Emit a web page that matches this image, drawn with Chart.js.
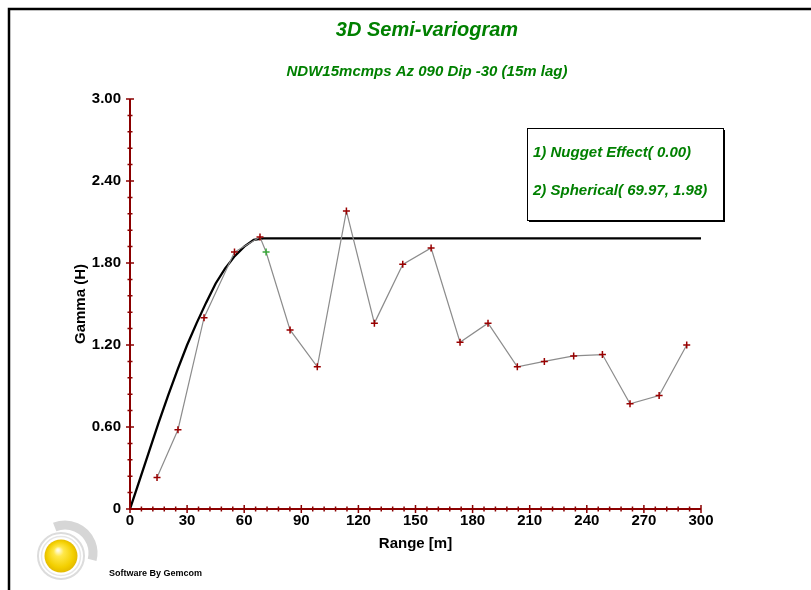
<!DOCTYPE html>
<html>
<head>
<meta charset="utf-8">
<script src="https://cdn.jsdelivr.net/npm/chart.js@4.4.1/dist/chart.umd.min.js"></script>
<style>
  html, body { margin: 0; padding: 0; background: #fff; }
  #wrap { width: 811px; height: 590px; }
</style>
</head>
<body>
<div id="wrap"><canvas id="c" width="811" height="590"></canvas></div>
<script>
// ---- data ----
const lagDistance = [14.2, 25.2, 38.9, 54.9, 68.3, 71.5, 84.1, 98.4, 113.7, 128.4, 143.3, 158.2, 173.4, 188.1, 203.5, 217.7, 233.1, 248.2, 262.7, 278.0, 292.5];
const gammaValues = [0.23, 0.58, 1.40, 1.88, 1.99, 1.88, 1.31, 1.04, 2.18, 1.36, 1.79, 1.91, 1.22, 1.36, 1.04, 1.08, 1.12, 1.13, 0.77, 0.83, 1.20];
const pointColours = ['#990000','#990000','#990000','#990000','#990000','#3aa63a','#990000','#990000','#990000','#990000','#990000','#990000','#990000','#990000','#990000','#990000','#990000','#990000','#990000','#990000','#990000'];
const modelRange = [0, 5, 10, 15, 20, 25, 30, 35, 40, 45, 50, 55, 60, 65, 70, 300];
const modelGamma = [0, 0.21, 0.42, 0.63, 0.83, 1.02, 1.20, 1.36, 1.51, 1.65, 1.76, 1.85, 1.92, 1.97, 1.98, 1.98];
const xTickValues = [0, 30, 60, 90, 120, 150, 180, 210, 240, 270, 300];
const xTickLabels = ['0', '30', '60', '90', '120', '150', '180', '210', '240', '270', '300'];
const yTickValues = [0, 0.6, 1.2, 1.8, 2.4, 3.0];
const yTickLabels = ['0', '0.60', '1.20', '1.80', '2.40', '3.00'];
const legendLines = ['1) Nugget Effect( 0.00)', '2) Spherical( 69.97, 1.98)'];
const chartTitle = '3D Semi-variogram';
const chartSubtitle = 'NDW15mcmps Az 090 Dip -30 (15m lag)';
const xTitle = 'Range [m]';
const yTitle = 'Gamma (H)';
const footerText = 'Software By Gemcom';

// ---- styles ----
const FONT = "'Liberation Sans', Arial, Helvetica, sans-serif";
const GREEN = '#008000';
const AXIS_RED = '#8b0000';

function labelFor(values, labels, v) {
  for (let i = 0; i < values.length; i++) {
    if (Math.abs(values[i] - v) < 1e-6) return labels[i];
  }
  return '';
}

const decorPlugin = {
  id: 'decor',
  beforeDraw(chart) {
    const ctx = chart.ctx;
    ctx.save();
    ctx.fillStyle = '#fff';
    ctx.fillRect(0, 0, chart.width, chart.height);
    ctx.restore();
  },
  afterDraw(chart) {
    const ctx = chart.ctx;
    const xs = chart.scales.x, ys = chart.scales.y;
    ctx.save();
    // outer frame
    ctx.strokeStyle = '#000';
    ctx.lineWidth = 2.5;
    ctx.beginPath();
    ctx.moveTo(9, 590);
    ctx.lineTo(9, 9);
    ctx.lineTo(811, 9);
    ctx.stroke();

    // axes lines
    const x0 = xs.getPixelForValue(0), y0 = ys.getPixelForValue(0);
    const x1 = xs.getPixelForValue(300), y1 = ys.getPixelForValue(3);
    ctx.strokeStyle = AXIS_RED;
    ctx.lineWidth = 2;
    ctx.beginPath();
    ctx.moveTo(x0, y1); ctx.lineTo(x0, y0); ctx.lineTo(x1, y0);
    ctx.stroke();
    // tick crosses
    ctx.lineWidth = 1.5;
    ctx.beginPath();
    ys.ticks.forEach(t => {
      const p = ys.getPixelForValue(t.value);
      const major = labelFor(yTickValues, yTickLabels, t.value) !== '';
      const h = major ? 4 : 2.5;
      ctx.moveTo(x0 - h, p); ctx.lineTo(x0 + h, p);
    });
    xs.ticks.forEach(t => {
      const p = xs.getPixelForValue(t.value);
      const major = labelFor(xTickValues, xTickLabels, t.value) !== '';
      const h = major ? 4 : 2.5;
      ctx.moveTo(p, y0 - h); ctx.lineTo(p, y0 + h);
    });
    ctx.stroke();

    // legend box
    const bx = 527, by = 128, bw = 196, bh = 92;
    ctx.fillStyle = '#fff';
    ctx.fillRect(bx, by, bw, bh);
    ctx.strokeStyle = '#000';
    ctx.lineWidth = 1;
    ctx.strokeRect(bx + 0.5, by + 0.5, bw, bh);
    ctx.lineWidth = 2;
    ctx.beginPath();
    ctx.moveTo(bx + bw + 1, by + 2); ctx.lineTo(bx + bw + 1, by + bh + 1); ctx.lineTo(bx + 2, by + bh + 1);
    ctx.stroke();
    ctx.fillStyle = GREEN;
    ctx.font = 'italic bold 15px ' + FONT;
    ctx.textBaseline = 'middle';
    ctx.textAlign = 'left';
    ctx.fillText(legendLines[0], 533, 153);
    ctx.fillText(legendLines[1], 533, 191);

    // logo
    const cx = 61, cy = 556;
    ctx.lineWidth = 9;
    ctx.strokeStyle = '#d6d6d6';
    ctx.beginPath();
    ctx.arc(cx + 4, cy - 3, 28, -Math.PI * 0.62, Math.PI * 0.08);
    ctx.stroke();
    ctx.lineWidth = 2;
    ctx.strokeStyle = '#dcdcdc';
    ctx.beginPath();
    ctx.arc(cx, cy, 23, 0, Math.PI * 2);
    ctx.stroke();
    ctx.lineWidth = 1.5;
    ctx.strokeStyle = '#e6e6e6';
    ctx.beginPath();
    ctx.arc(cx, cy, 19.5, 0, Math.PI * 2);
    ctx.stroke();
    const g = ctx.createRadialGradient(cx - 3, cy - 6, 1, cx, cy, 17);
    g.addColorStop(0, '#fffbe0');
    g.addColorStop(0.25, '#ffe84a');
    g.addColorStop(0.75, '#f3cf00');
    g.addColorStop(1, '#e2b800');
    ctx.fillStyle = g;
    ctx.beginPath();
    ctx.arc(cx, cy, 16.5, 0, Math.PI * 2);
    ctx.fill();

    // footer text
    ctx.fillStyle = '#000';
    ctx.font = 'bold 9px ' + FONT;
    ctx.textBaseline = 'middle';
    ctx.fillText(footerText, 109, 574);
    ctx.restore();
  }
};

const chart = new Chart(document.getElementById('c'), {
  type: 'scatter',
  data: {
    datasets: [
      {
        label: 'Spherical model',
        data: modelRange.map((r, i) => ({ x: r, y: modelGamma[i] })),
        showLine: true,
        borderColor: '#000',
        borderWidth: 2.3,
        pointRadius: 0,
        tension: 0,
        order: 2
      },
      {
        label: 'Experimental',
        data: lagDistance.map((d, i) => ({ x: d, y: gammaValues[i] })),
        showLine: true,
        borderColor: '#8c8c8c',
        borderWidth: 1.2,
        pointStyle: 'cross',
        pointRadius: 3.5,
        pointBorderWidth: 1.5,
        pointBorderColor: pointColours,
        pointBackgroundColor: pointColours,
        tension: 0,
        order: 1
      }
    ]
  },
  plugins: [decorPlugin],
  options: {
    responsive: false,
    animation: false,
    devicePixelRatio: 1,
    layout: { padding: { left: 43, right: 0, top: 0, bottom: 0 } },
    plugins: {
      legend: { display: false },
      tooltip: { enabled: false },
      title: {
        display: true,
        text: chartTitle,
        color: GREEN,
        font: { family: FONT, size: 20, weight: 'bold', style: 'italic', lineHeight: 1.2 },
        padding: { top: 18, bottom: 0 }
      },
      subtitle: {
        display: true,
        text: chartSubtitle,
        color: GREEN,
        font: { family: FONT, size: 15, weight: 'bold', style: 'italic', lineHeight: 1.2 },
        padding: { top: 21, bottom: 18 }
      }
    },
    scales: {
      x: {
        type: 'linear',
        min: 0, max: 300,
        afterFit(s) { s.height = 81; },
        grid: { display: false, drawTicks: false },
        border: { display: false },
        ticks: {
          stepSize: 6,
          autoSkip: false,
          maxRotation: 0,
          padding: 3,
          color: '#000',
          font: { family: FONT, size: 15, weight: 'bold' },
          callback: v => labelFor(xTickValues, xTickLabels, v)
        },
        title: {
          display: true,
          text: xTitle,
          color: '#000',
          font: { family: FONT, size: 15, weight: 'bold', lineHeight: 1.2 },
          padding: { top: 0, bottom: 37 }
        }
      },
      y: {
        type: 'linear',
        position: 'left',
        min: 0, max: 3,
        afterFit(s) { s.width = 87; },
        grid: { display: false, drawTicks: false },
        border: { display: false },
        ticks: {
          stepSize: 0.12,
          autoSkip: false,
          padding: 9,
          color: '#000',
          font: { family: FONT, size: 15, weight: 'bold' },
          callback: v => labelFor(yTickValues, yTickLabels, v)
        },
        title: {
          display: true,
          text: yTitle,
          color: '#000',
          font: { family: FONT, size: 15, weight: 'bold', lineHeight: 1.2 },
          padding: { top: 29, bottom: 0 }
        }
      },
      yRight: {
        type: 'linear',
        position: 'right',
        min: 0, max: 3,
        afterFit(s) { s.width = 110; },
        grid: { display: false, drawTicks: false },
        border: { display: false },
        ticks: { display: false }
      }
    }
  }
});
</script>
</body>
</html>
